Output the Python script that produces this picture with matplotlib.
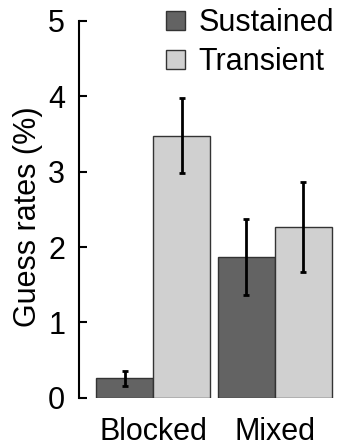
import matplotlib
matplotlib.use('Agg')
import matplotlib.pyplot as plt
import numpy as np

plt.rcParams['font.family'] = ['Liberation Sans', 'DejaVu Sans']
plt.rcParams['font.size'] = 22

conditions = ['Blocked', 'Mixed']
series = ['Sustained', 'Transient']
sustained = [0.26, 1.87]
sustained_err = [0.10, 0.50]
transient = [3.48, 2.27]
transient_err = [0.50, 0.60]
colors = ['#636363', '#d0d0d0']

fig = plt.figure(figsize=(3.38, 4.46), dpi=100)
ax = fig.add_axes([0.234, 0.108, 0.756, 0.845])

x = np.arange(len(conditions))
w = 0.467
ax.bar(x - w / 2, sustained, w, yerr=sustained_err, color=colors[0],
       edgecolor='#333333', linewidth=1, label=series[0],
       error_kw=dict(ecolor='black', elinewidth=2, capsize=2.5, capthick=2))
ax.bar(x + w / 2, transient, w, yerr=transient_err, color=colors[1],
       edgecolor='#333333', linewidth=1, label=series[1],
       error_kw=dict(ecolor='black', elinewidth=2, capsize=2.5, capthick=2))

ax.set_ylim(0, 5)
ax.set_xlim(-0.607, 1.49)
ax.set_yticks([0, 1, 2, 3, 4, 5])
ax.set_xticks(x)
ax.set_xticklabels(conditions)
ax.tick_params(axis='y', direction='in', length=6, width=1.5, pad=10)
ax.tick_params(axis='x', length=0, pad=14)
for s in ['top', 'right', 'bottom']:
    ax.spines[s].set_visible(False)
ax.spines['left'].set_linewidth(1.5)

ax.set_ylabel('Guess rates (%)')
ax.yaxis.set_label_coords(-0.14, 0.48)

fig.legend(loc='upper right', bbox_to_anchor=(1.012, 1.0), frameon=False,
           borderpad=0, borderaxespad=0.27, handlelength=0.6, handleheight=0.6,
           handletextpad=0.45, labelspacing=0.3)

fig.savefig('out.png', dpi=100)
